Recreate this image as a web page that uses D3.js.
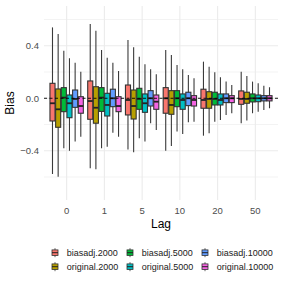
<!DOCTYPE html>
<html>
<head>
<meta charset="utf-8">
<script src="https://cdn.jsdelivr.net/npm/d3@7"></script>
<style>
	body { margin: 0; background: #fff; }
	svg { display: block; font-family: "Liberation Sans", Arial, sans-serif; }
</style>
</head>
<body>
<svg id="chart" width="284" height="284"></svg>
<script>
var lags = ['0', '1', '5', '10', '20', '50'];
var series = ['biasadj.2000', 'original.2000', 'biasadj.5000', 'original.5000', 'biasadj.10000', 'original.10000'];
var colors = ['#F8766D', '#B79F00', '#00BA38', '#00BFC4', '#619CFF', '#F564E3'];
var yTicks = [-0.4, 0, 0.4];
var yMinorTicks = [-0.6, -0.2, 0.2, 0.6];

// one row per series, one value per lag
var whiskerHigh = [
	[0.54, 0.566, 0.444, 0.368, 0.279, 0.203],
	[0.49, 0.515, 0.389, 0.33, 0.241, 0.17],
	[0.363, 0.368, 0.317, 0.254, 0.198, 0.127],
	[0.305, 0.309, 0.259, 0.221, 0.16, 0.114],
	[0.271, 0.271, 0.221, 0.178, 0.127, 0.096],
	[0.203, 0.208, 0.183, 0.152, 0.101, 0.084]
];
var upperQuartile = [
	[0.114, 0.132, 0.101, 0.081, 0.069, 0.056],
	[0.071, 0.088, 0.063, 0.058, 0.05, 0.046],
	[0.081, 0.081, 0.076, 0.058, 0.046, 0.033],
	[0.025, 0.038, 0.033, 0.033, 0.033, 0.025],
	[0.063, 0.069, 0.058, 0.046, 0.033, 0.02],
	[0.012, 0.012, 0.025, 0.02, 0.02, 0.02]
];
var medians = [
	[-0.038, -0.021, -0.013, 0.0, -0.013, -0.005],
	[-0.084, -0.072, -0.059, -0.051, -0.005, -0.005],
	[0.005, 0.005, -0.005, 0.0, -0.005, 0.0],
	[-0.038, -0.051, -0.038, -0.013, -0.013, 0.0],
	[-0.005, 0.0, 0.0, 0.0, 0.0, 0.0],
	[-0.059, -0.059, -0.026, -0.013, 0.0, 0.0]
];
var lowerQuartile = [
	[-0.173, -0.16, -0.127, -0.114, -0.076, -0.046],
	[-0.221, -0.19, -0.158, -0.122, -0.076, -0.038],
	[-0.102, -0.1, -0.084, -0.064, -0.051, -0.028],
	[-0.148, -0.135, -0.107, -0.084, -0.051, -0.026],
	[-0.069, -0.064, -0.059, -0.056, -0.033, -0.02],
	[-0.114, -0.102, -0.084, -0.059, -0.033, -0.02]
];
var whiskerLow = [
	[-0.577, -0.533, -0.39, -0.399, -0.285, -0.19],
	[-0.597, -0.54, -0.411, -0.363, -0.267, -0.17],
	[-0.381, -0.38, -0.305, -0.254, -0.178, -0.114],
	[-0.40, -0.369, -0.33, -0.272, -0.165, -0.102],
	[-0.33, -0.262, -0.19, -0.183, -0.127, -0.089],
	[-0.293, -0.293, -0.241, -0.178, -0.114, -0.076]
];

var panel = { left: 44, right: 278, top: 6, bottom: 200 };
var svg = d3.select('#chart');

var x = d3.scalePoint().domain(lags).range([panel.left, panel.right]).padding(0.6);
var step = x.step();
var inner = d3.scaleBand().domain(series).range([-step * 0.45, step * 0.45]).padding(0);
var y = d3.scaleLinear().domain([-0.775, 0.703]).range([panel.bottom, panel.top]);

// grid
var grid = svg.append('g');
grid.selectAll('.minor').data(yMinorTicks).enter().append('line')
	.attr('x1', panel.left).attr('x2', panel.right)
	.attr('y1', function(d) { return y(d); }).attr('y2', function(d) { return y(d); })
	.attr('stroke', '#EBEBEB').attr('stroke-width', 0.6);
grid.selectAll('.major').data(yTicks).enter().append('line')
	.attr('x1', panel.left).attr('x2', panel.right)
	.attr('y1', function(d) { return y(d); }).attr('y2', function(d) { return y(d); })
	.attr('stroke', '#EBEBEB').attr('stroke-width', 1.1);
grid.selectAll('.vmajor').data(lags).enter().append('line')
	.attr('y1', panel.top).attr('y2', panel.bottom)
	.attr('x1', function(d) { return x(d); }).attr('x2', function(d) { return x(d); })
	.attr('stroke', '#EBEBEB').attr('stroke-width', 1.1);

// boxes
var boxes = [];
for (var s=0; s<series.length; s++) {
	for (var l=0; l<lags.length; l++) {
		boxes.push({
			s: s, lag: lags[l],
			hi: whiskerHigh[s][l], q3: upperQuartile[s][l], med: medians[s][l],
			q1: lowerQuartile[s][l], lo: whiskerLow[s][l]
		});
	}
}

var bw = inner.bandwidth();
var g = svg.append('g').selectAll('g').data(boxes).enter().append('g')
	.attr('transform', function(d) { return 'translate(' + (x(d.lag) + inner(series[d.s])) + ',0)'; });

g.append('line')
	.attr('x1', bw / 2).attr('x2', bw / 2)
	.attr('y1', function(d) { return y(d.hi); }).attr('y2', function(d) { return y(d.lo); })
	.attr('stroke', '#3a3a3a').attr('stroke-width', 1.1);
g.append('rect')
	.attr('x', 0.3).attr('width', bw - 0.6)
	.attr('y', function(d) { return y(d.q3); })
	.attr('height', function(d) { return y(d.q1) - y(d.q3); })
	.attr('fill', function(d) { return colors[d.s]; })
	.attr('stroke', '#333').attr('stroke-width', 1.1);
g.append('line')
	.attr('x1', 0.3).attr('x2', bw - 0.3)
	.attr('y1', function(d) { return y(d.med); }).attr('y2', function(d) { return y(d.med); })
	.attr('stroke', '#222').attr('stroke-width', 1.8);

// zero reference line
svg.append('line')
	.attr('x1', panel.left).attr('x2', panel.right)
	.attr('y1', y(0)).attr('y2', y(0))
	.attr('stroke', '#000').attr('stroke-width', 0.9).attr('stroke-dasharray', '3,2.5');

// axes text
svg.append('g').selectAll('text').data(yTicks).enter().append('text')
	.attr('x', 39).attr('y', function(d) { return y(d) + 3.5; })
	.attr('text-anchor', 'end').attr('font-size', 9.5).attr('fill', '#4D4D4D')
	.text(function(d) { return d3.format('.1f')(d); });
svg.append('g').selectAll('text').data(lags).enter().append('text')
	.attr('x', function(d) { return x(d); }).attr('y', 213.5)
	.attr('text-anchor', 'middle').attr('font-size', 9.5).attr('fill', '#4D4D4D')
	.text(function(d) { return d; });

svg.append('text')
	.attr('x', (panel.left + panel.right) / 2).attr('y', 228)
	.attr('text-anchor', 'middle').attr('font-size', 12).attr('fill', '#000')
	.text('Lag');
svg.append('text')
	.attr('transform', 'translate(14,' + ((panel.top + panel.bottom) / 2) + ') rotate(-90)')
	.attr('text-anchor', 'middle').attr('font-size', 12).attr('fill', '#000')
	.text('Bias');

// legend, filled column-wise
var legend = svg.append('g').selectAll('g').data(series).enter().append('g')
	.attr('transform', function(d, i) {
		return 'translate(' + (55 + Math.floor(i / 2) * 75) + ',' + (252.7 + (i % 2) * 14) + ')';
	});
legend.append('line')
	.attr('x1', 0).attr('x2', 0).attr('y1', -4.5).attr('y2', 4.5)
	.attr('stroke', '#3a3a3a').attr('stroke-width', 0.8);
legend.append('rect')
	.attr('x', -3).attr('y', -2.8).attr('width', 6).attr('height', 5.6)
	.attr('fill', function(d, i) { return colors[i]; })
	.attr('stroke', '#333').attr('stroke-width', 0.8);
legend.append('line')
	.attr('x1', -3).attr('x2', 3).attr('y1', 0).attr('y2', 0)
	.attr('stroke', '#222').attr('stroke-width', 1);
legend.append('text')
	.attr('x', 11.7).attr('y', 3.3)
	.attr('font-size', 9).attr('fill', '#1a1a1a')
	.text(function(d) { return d; });
</script>
</body>
</html>
